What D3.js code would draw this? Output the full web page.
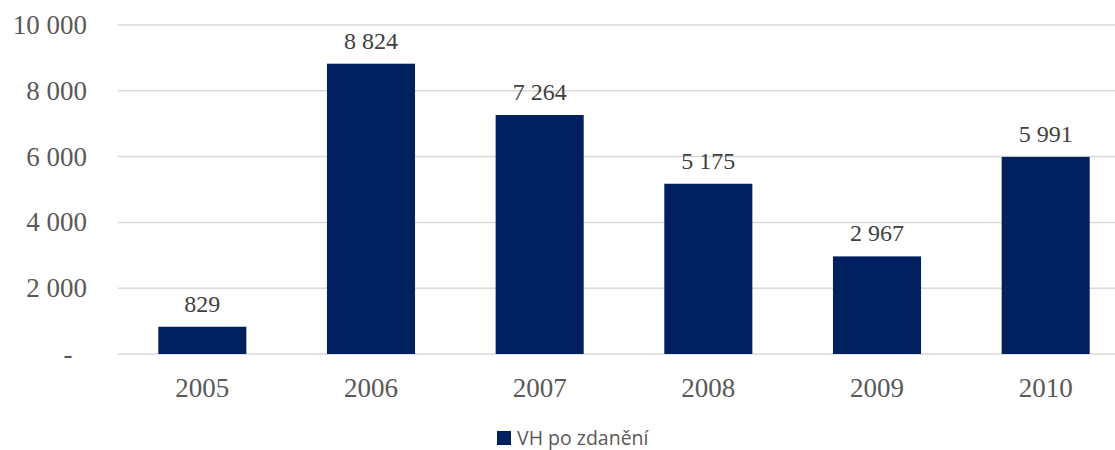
<!DOCTYPE html>
<html>
<head>
<meta charset="utf-8">
<script src="https://cdn.jsdelivr.net/npm/d3@7"></script>
<style>
  body { margin: 0; background: #fff; }
  svg { display: block; }
  .serif { font-family: "Liberation Serif", "Times New Roman", Times, serif; }
  .sans { font-family: "Open Sans", "Noto Sans", sans-serif; }
</style>
</head>
<body>
<svg id="chart" width="1115" height="450"></svg>
<script>
const years = ['2005', '2006', '2007', '2008', '2009', '2010'];
const values = [829, 8824, 7264, 5175, 2967, 5991];
const yTicks = [0, 2000, 4000, 6000, 8000, 10000];
const seriesName = 'VH po zdanění';

const svg = d3.select('#chart');
const plotLeft = 118, plotRight = 1130, plotTop = 25, plotBottom = 354;

const fmt = v => v === 0 ? '-' : d3.format(',')(v).replace(/,/g, ' ');

const x = d3.scaleBand().domain(years).range([plotLeft, plotRight]).paddingInner(0.478).paddingOuter(0.239);
const y = d3.scaleLinear().domain([0, 10000]).range([plotBottom, plotTop]);

// gridlines
svg.append('g').selectAll('line').data(yTicks).enter().append('line')
  .attr('x1', plotLeft).attr('x2', 1115)
  .attr('y1', d => y(d)).attr('y2', d => y(d))
  .attr('stroke', '#d9d9d9').attr('stroke-width', 1.5);

// y tick labels
svg.append('g').selectAll('text').data(yTicks).enter().append('text')
  .attr('class', 'serif')
  .attr('x', d => d === 0 ? 68 : 87).attr('y', d => y(d) + 9)
  .attr('text-anchor', d => d === 0 ? 'middle' : 'end')
  .attr('font-size', '27px').attr('fill', '#595959')
  .text(fmt);

// bars
svg.append('g').selectAll('rect').data(values).enter().append('rect')
  .attr('x', (d, i) => x(years[i])).attr('width', x.bandwidth())
  .attr('y', d => y(d)).attr('height', d => plotBottom - y(d))
  .attr('fill', '#002060');

// data labels
svg.append('g').selectAll('text').data(values).enter().append('text')
  .attr('class', 'serif')
  .attr('x', (d, i) => x(years[i]) + x.bandwidth() / 2).attr('y', d => y(d) - 15)
  .attr('text-anchor', 'middle')
  .attr('font-size', '24px').attr('fill', '#404040')
  .text(fmt);

// x labels
svg.append('g').selectAll('text').data(years).enter().append('text')
  .attr('class', 'serif')
  .attr('x', d => x(d) + x.bandwidth() / 2).attr('y', 397)
  .attr('text-anchor', 'middle')
  .attr('font-size', '27px').attr('fill', '#595959')
  .text(d => d);

// legend
const lg = svg.append('g').attr('transform', 'translate(497,431)');
lg.append('rect').attr('width', 14).attr('height', 14).attr('fill', '#002060');
lg.append('text').attr('class', 'sans').attr('x', 20).attr('y', 14)
  .attr('font-size', '19.5px').attr('fill', '#595959')
  .text(seriesName);
</script>
</body>
</html>
